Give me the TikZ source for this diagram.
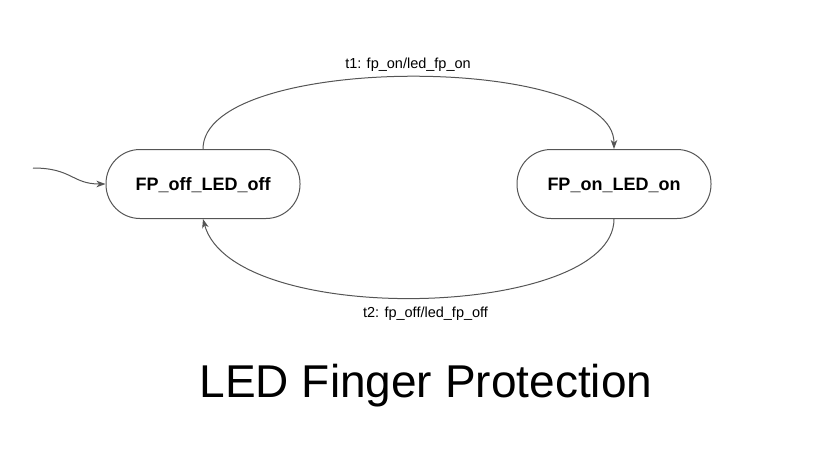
\documentclass[tikz,border=0pt]{standalone}
\usepackage{fontspec}
\setmainfont{Liberation Sans}
\usetikzlibrary{arrows.meta}
\definecolor{linegray}{HTML}{555555}
\tikzset{
  state/.style={draw=linegray, line width=1pt, rectangle, rounded corners=34pt,
    minimum width=194pt, minimum height=69pt, inner sep=0pt,
    text height=13pt, text depth=0pt,
    font=\fontsize{18}{20}\selectfont\bfseries},
  arr/.style={draw=linegray, line width=1pt, -{Stealth[length=9pt,width=6.5pt,inset=2.5pt]}},
  elabel/.style={anchor=base, inner sep=0pt, font=\fontsize{14.5}{16}\selectfont},
  title/.style={anchor=base, inner sep=0pt, font=\fontsize{46}{50}\selectfont}
}
\begin{document}
\begin{tikzpicture}[x=1pt,y=-1pt]
\useasboundingbox (0,0) rectangle (840,450);
\node[state] (off) at (203,184) {FP\_off\_LED\_off};
\node[state] (on) at (614,184) {FP\_on\_LED\_on};
\coordinate (init) at (33,168);
\draw[arr] (init) .. controls (72,168) and (72,184) .. (off.west);
\draw[arr] (off.north) .. controls +(0,-96) and +(0,-96) .. (on.north);
\draw[arr] (on.south) .. controls +(0,100) and +(30,110) .. (off.south);
\node[elabel] (t1) at (408,68) {t1: fp\_on/led\_fp\_on};
\node[elabel] (t2) at (425.5,317) {t2: fp\_off/led\_fp\_off};
\node[title] (ttl) at (426,397) {LED Finger Protection};
\end{tikzpicture}
\end{document}
